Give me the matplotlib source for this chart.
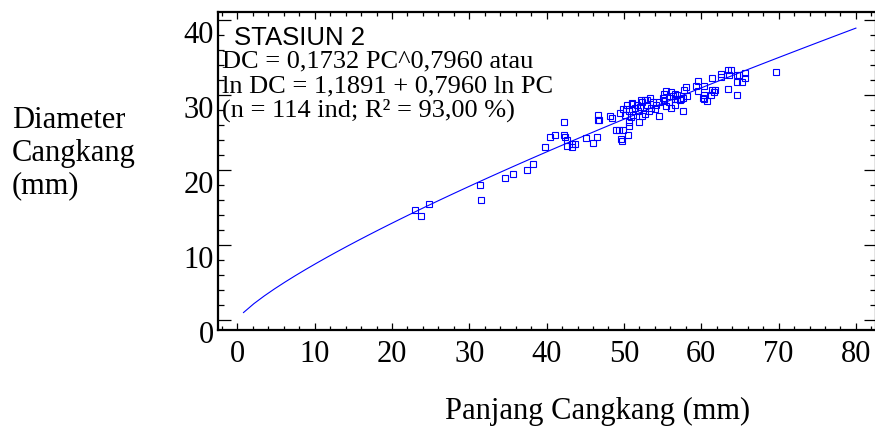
import numpy as np
import matplotlib
matplotlib.use("Agg")
import matplotlib.pyplot as plt
from matplotlib.ticker import MultipleLocator
from matplotlib.transforms import ScaledTranslation

plt.rcParams['font.family'] = ['Liberation Serif', 'DejaVu Serif']

# Observed points: Panjang Cangkang (PC, mm) vs Diameter Cangkang (DC, mm)
pc = [22.97, 23.7, 24.8, 31.4, 31.5, 34.6, 35.7, 37.4, 38.3, 39.8,
      40.4, 41.1, 42.2, 42.2, 42.4, 42.6, 42.7, 43.3, 43.3, 43.7,
      45.1, 46.0, 46.5, 46.7, 46.7, 46.8, 48.2, 48.4, 49.0, 49.4,
      49.9, 50.5, 49.6, 49.8, 49.5, 49.9, 50.3, 50.1, 50.4, 50.6,
      50.6, 50.7, 51.0, 51.1, 51.2, 51.7, 51.8, 52.0, 52.2, 52.7,
      52.1, 52.4, 52.7, 53.0, 53.4, 53.3, 53.5, 53.8, 54.0, 54.5,
      54.5, 55.2, 55.2, 55.5, 55.5, 55.8, 56.1, 56.1, 56.3, 56.6,
      56.6, 56.6, 56.9, 57.3, 57.4, 57.7, 57.8, 58.0, 57.7, 58.2,
      59.3, 59.6, 59.6, 60.2, 60.3, 60.3, 60.4, 60.8, 61.4, 61.4,
      61.8, 61.7, 61.3, 62.6, 62.6, 63.5, 63.9, 63.6, 63.5, 64.6,
      64.9, 64.6, 65.3, 64.6, 65.7, 65.7, 69.7, 50.9, 51.4, 53.0,
      54.2, 55.0, 56.9, 52.3]
dc = [14.6, 13.8, 15.5, 17.96, 16.0, 18.9, 19.5, 19.96, 20.8, 23.0,
      24.4, 24.7, 26.4, 24.6, 24.4, 24.0, 23.2, 23.5, 23.0, 23.4,
      24.3, 23.6, 24.4, 27.3, 26.7, 26.7, 27.2, 26.9, 25.3, 25.3,
      25.3, 24.6, 24.1, 23.8, 27.6, 28.1, 28.1, 27.3, 28.7, 27.8,
      26.4, 25.8, 28.9, 28.8, 27.3, 28.7, 27.8, 26.4, 29.3, 29.3,
      28.4, 27.2, 27.4, 28.7, 29.6, 27.8, 28.2, 29.1, 28.1, 29.1,
      27.2, 30.1, 29.2, 30.5, 28.5, 29.1, 30.4, 28.2, 29.8, 30.1,
      29.5, 28.7, 29.5, 29.3, 29.5, 27.9, 30.6, 31.0, 29.6, 29.8,
      31.2, 31.9, 30.5, 29.6, 29.4, 31.2, 30.0, 29.2, 32.2, 30.7,
      30.7, 30.4, 30.0, 32.8, 32.4, 33.3, 33.3, 32.7, 30.8, 32.7,
      32.7, 31.7, 31.7, 30.0, 32.9, 32.3, 33.1, 27.0, 28.3, 29.3,
      28.6, 29.6, 30.0, 29.1]

# Fitted model coefficients (DC = a * PC^b)
fit_a = 1.1891
fit_b = 0.7960
fit_range = [0.8, 80.0]

x_ticks = [0, 10, 20, 30, 40, 50, 60, 70, 80]
y_ticks = [0, 10, 20, 30, 40]

text_lines = ["STASIUN 2",
              "DC = 0,1732 PC^0,7960 atau",
              "ln DC = 1,1891 + 0,7960 ln PC",
              "(n = 114 ind; R\u00b2 = 93,00 %)"]

W, H = 875, 430
fig = plt.figure(figsize=(W / 100, H / 100), dpi=100)
ax_l, ax_r, ax_t, ax_b = 218.3, 876.0, 11.7, 330.0
ax = fig.add_axes([ax_l / W, 1 - ax_b / H, (ax_r - ax_l) / W, (ax_b - ax_t) / H])

blue = '#0000ff'
xf = np.linspace(fit_range[0], fit_range[1], 60)
ax.plot(xf, fit_a * xf ** fit_b, color=blue, lw=0.8)
ax.plot(pc, dc, linestyle='none', marker='s', markersize=3.8,
        mfc='none', mec=blue, mew=0.8)

ax.set_xlim(-2.46, 82.6)
ax.set_ylim(-1.33, 41.1)
ax.set_xticks(x_ticks)
ax.set_yticks(y_ticks)
ax.xaxis.set_minor_locator(MultipleLocator(2))
ax.yaxis.set_minor_locator(MultipleLocator(2))
ax.tick_params(axis='x', which='both', direction='in', top=True, bottom=True,
               labelsize=22, pad=7, width=0.9, colors='black')
ax.tick_params(axis='x', which='major', length=5)
ax.tick_params(axis='x', which='minor', length=3)
ax.tick_params(axis='y', which='both', direction='in', left=True, right=True,
               labelsize=22, pad=3, width=0.9)
ax.tick_params(axis='y', which='major', length=9)
ax.tick_params(axis='y', which='minor', length=4.5)
for s in ax.spines.values():
    s.set_linewidth(1.6)

off = ScaledTranslation(0, -0.12, fig.dpi_scale_trans)
for lab in ax.get_yticklabels():
    lab.set_transform(lab.get_transform() + off)

aw, ah = ax_r - ax_l, ax_b - ax_t
def axpos(px, py):
    return (px - ax_l) / aw, (ax_b - py) / ah

x0, y0 = axpos(234, 45)
ax.text(x0, y0, text_lines[0], transform=ax.transAxes, fontsize=18.5,
        family=['Liberation Sans', 'DejaVu Sans'], va='baseline', ha='left')
for line, py in zip(text_lines[1:], [67, 92, 117]):
    x1, y1 = axpos(222, py)
    ax.text(x1, y1, line, transform=ax.transAxes, fontsize=19,
            va='baseline', ha='left')

fig.text(12 / W, 1 - 153 / H, "Diameter\nCangkang\n(mm)", fontsize=22,
         ha='left', va='center', linespacing=1.15)
fig.text(598 / W, 1 - 411 / H, "Panjang Cangkang (mm)", fontsize=22,
         ha='center', va='center')

fig.savefig("out.png", dpi=100)
